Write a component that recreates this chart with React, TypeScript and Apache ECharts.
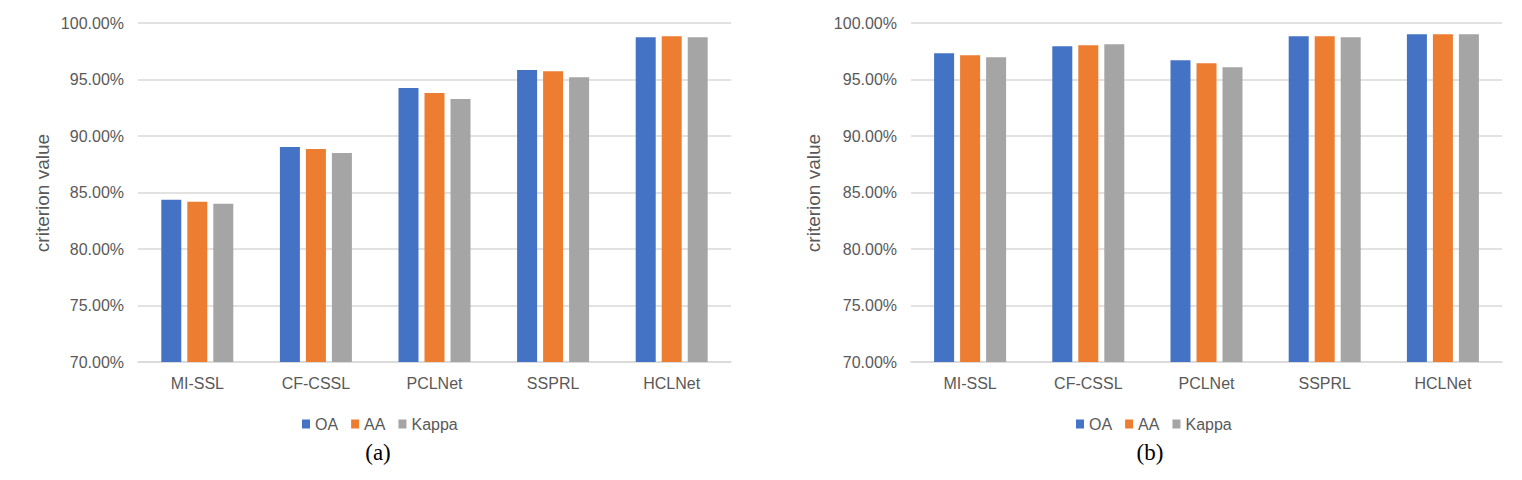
import React, { useEffect, useRef } from "react";
import * as echarts from "echarts";

const categories = ["MI-SSL", "CF-CSSL", "PCLNet", "SSPRL", "HCLNet"];
const seriesNames = ["OA", "AA", "Kappa"];
const oaA = [84.35, 89.03, 94.24, 95.83, 98.74];
const aaA = [84.18, 88.85, 93.8, 95.74, 98.83];
const kappaA = [84.0, 88.5, 93.27, 95.2, 98.74];
const oaB = [97.33, 97.94, 96.71, 98.83, 99.0];
const aaB = [97.15, 98.03, 96.44, 98.83, 99.0];
const kappaB = [96.97, 98.12, 96.09, 98.74, 99.0];
const yMin = 70;
const yMax = 100;
const yInterval = 5;
const captions = ["(a)", "(b)"];
const axisTitle = "criterion value";

const colors = ["#4472C4", "#ED7D31", "#A5A5A5"];
const textColor = "#595959";
const gridColor = "#D9D9D9";
const font = "'Liberation Sans', Arial, sans-serif";

export default function App() {
  const ref = useRef<HTMLDivElement>(null);
  useEffect(() => {
    if (!ref.current) return;
    const chart = echarts.init(ref.current, null, { renderer: "svg" });
    const grids = [
      { left: 138, right: 1522 - 731, top: 23, bottom: 480 - 362 },
      { left: 911, right: 1522 - 1502, top: 23, bottom: 480 - 362 },
    ];
    const mkX = (i: number) => ({
      type: "category",
      gridIndex: i,
      data: categories,
      axisLine: { show: true, lineStyle: { color: gridColor, width: 1.5 } },
      axisTick: { show: false },
      axisLabel: { color: textColor, fontSize: 16, fontFamily: font, margin: 13 },
    });
    const mkY = (i: number) => ({
      type: "value",
      gridIndex: i,
      min: yMin,
      max: yMax,
      interval: yInterval,
      axisLine: { show: false },
      axisTick: { show: false },
      splitLine: { lineStyle: { color: gridColor, width: 1.5 } },
      axisLabel: {
        color: textColor,
        fontSize: 16,
        fontFamily: font,
        margin: 14,
        formatter: (v: number) => v.toFixed(2) + "%",
      },
    });
    const dataA = [oaA, aaA, kappaA];
    const dataB = [oaB, aaB, kappaB];
    const series: any[] = [];
    [dataA, dataB].forEach((set, gi) => {
      set.forEach((d, si) => {
        series.push({
          type: "bar",
          name: seriesNames[si],
          xAxisIndex: gi,
          yAxisIndex: gi,
          data: d,
          barWidth: 20,
          barGap: "30%",
          itemStyle: { color: colors[si] },
        });
      });
    });
    const legend = (left: number) => ({
      left,
      top: 411,
      data: seriesNames,
      icon: "rect",
      itemWidth: 8,
      itemHeight: 9,
      itemGap: 13,
      selectedMode: false,
      textStyle: { color: textColor, fontSize: 16, fontFamily: font },
    });
    const option: any = {
      animation: false,
      grid: grids,
      xAxis: [mkX(0), mkX(1)],
      yAxis: [mkY(0), mkY(1)],
      legend: [legend(297), legend(1071)],
      series,
      graphic: [
        {
          type: "text",
          x: 42,
          y: 193,
          rotation: Math.PI / 2,
          style: {
            text: axisTitle,
            fill: textColor,
            fontSize: 19,
            fontFamily: font,
            align: "center",
            verticalAlign: "middle",
          },
        },
        {
          type: "text",
          x: 813,
          y: 193,
          rotation: Math.PI / 2,
          style: {
            text: axisTitle,
            fill: textColor,
            fontSize: 19,
            fontFamily: font,
            align: "center",
            verticalAlign: "middle",
          },
        },
        {
          type: "text",
          x: 378,
          y: 452,
          style: {
            text: captions[0],
            fill: "#000",
            fontSize: 23,
            fontFamily: "'Liberation Serif', 'Times New Roman', serif",
            align: "center",
            verticalAlign: "middle",
          },
        },
        {
          type: "text",
          x: 1150,
          y: 452,
          style: {
            text: captions[1],
            fill: "#000",
            fontSize: 23,
            fontFamily: "'Liberation Serif', 'Times New Roman', serif",
            align: "center",
            verticalAlign: "middle",
          },
        },
      ],
    };
    chart.setOption(option);
    return () => chart.dispose();
  }, []);
  return (
    <div
      ref={ref}
      style={{ position: "fixed", left: 0, top: 0, width: 1522, height: 480, background: "#fff" }}
    />
  );
}
